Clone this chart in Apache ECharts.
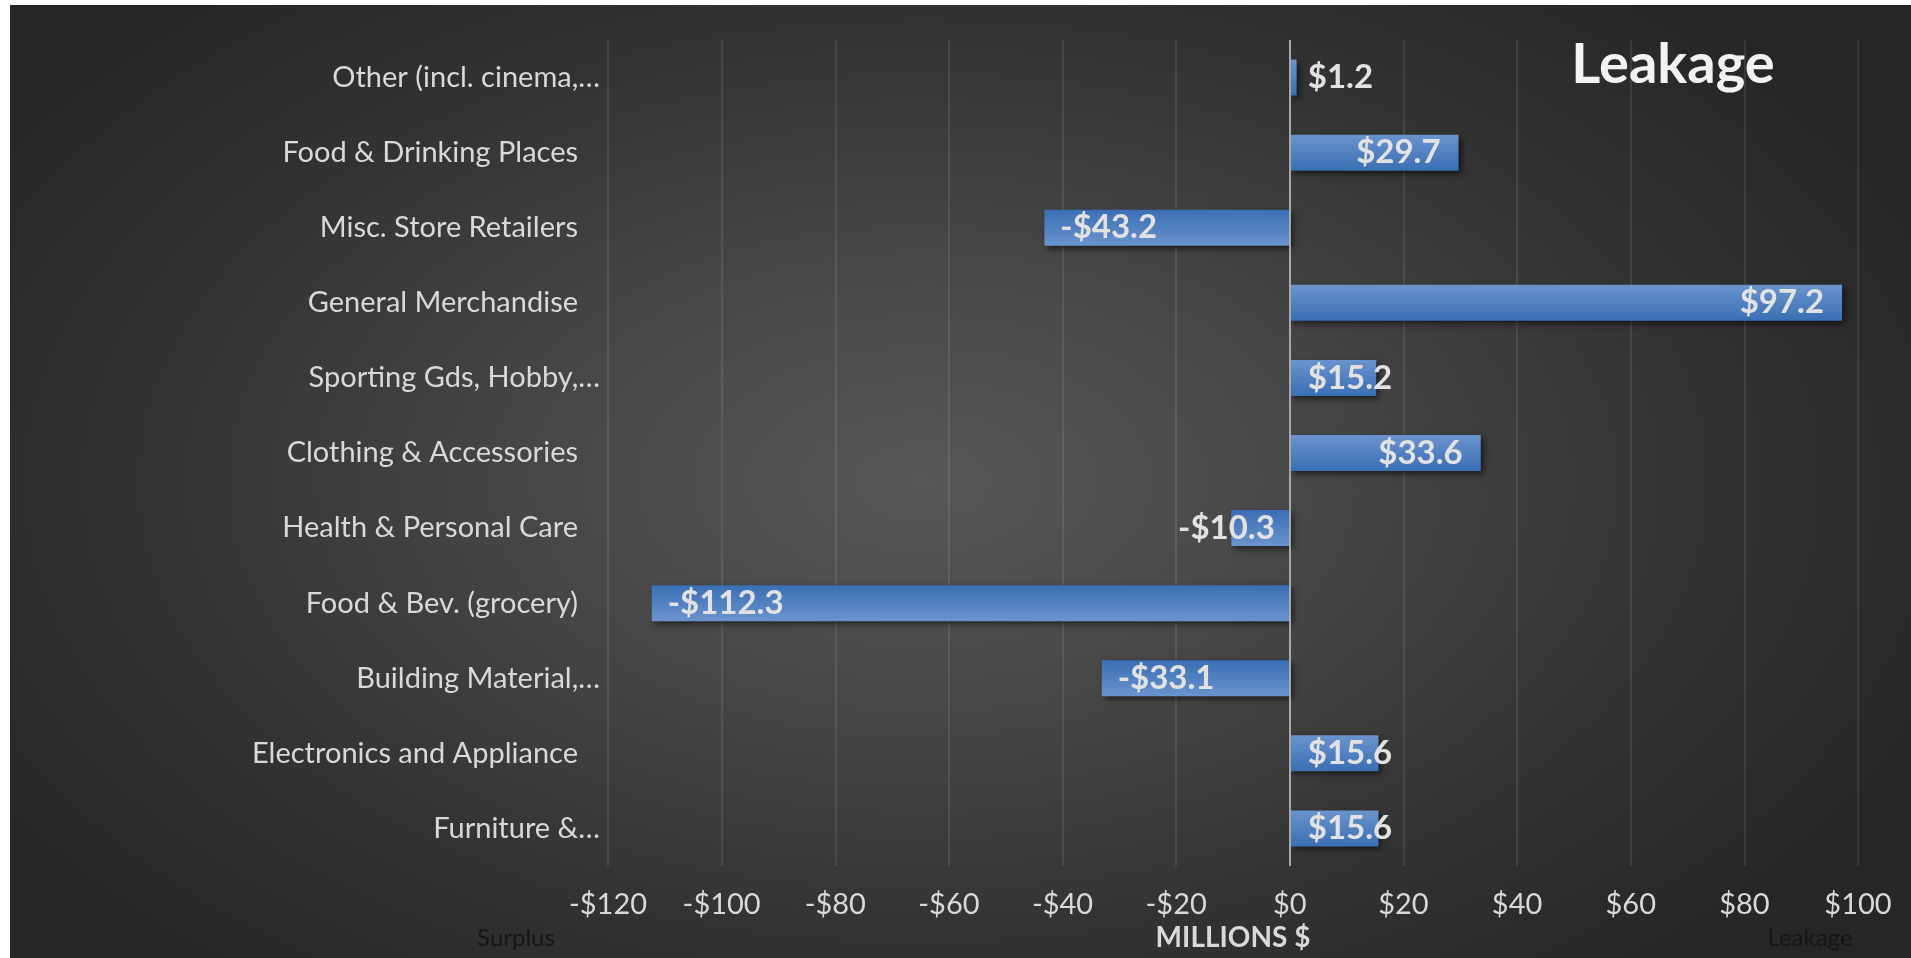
<!DOCTYPE html>
<html><head><meta charset="utf-8">
<script src="https://cdn.jsdelivr.net/npm/echarts@6/dist/echarts.min.js"></script>
<style>
html,body{margin:0;padding:0;background:#fff;width:1911px;height:958px;overflow:hidden}
#c{position:absolute;left:10px;top:5px;width:1901px;height:953px;
background: radial-gradient(ellipse 58% 68% at 48% 50%, #575757 0%, #474747 35%, #333333 70%, #262626 100%);}
</style></head><body><div id="c"></div>
<script>
const categories = ["Other (incl. cinema,\u2026","Food & Drinking Places","Misc. Store Retailers","General Merchandise","Sporting Gds, Hobby,\u2026","Clothing & Accessories","Health & Personal Care","Food & Bev. (grocery)","Building Material,\u2026","Electronics and Appliance","Furniture &\u2026"];
const values = [1.2, 29.7, -43.2, 97.2, 15.2, 33.6, -10.3, -112.3, -33.1, 15.6, 15.6];
const xMin = -120, xMax = 100, xStep = 20;
const titleText = "Leakage";
const axisTitle = "MILLIONS $";
const leftNote = "Surplus", rightNote = "Leakage";

const FONT = 'Lato';
const LABEL_SIZE = 33;
const fmtMoney = v => (v < 0 ? '-$' : '$') + Math.abs(v).toFixed(1);
const fmtTick = v => (v < 0 ? '-$' : '$') + Math.abs(v);

const chart = echarts.init(document.getElementById('c'), null, {renderer: 'canvas'});

function gradient(neg) {
  const light = '#6a94cd', dark = '#3a6eb4';
  return {type: 'linear', x: 0, y: 0, x2: 0, y2: 1,
    colorStops: neg ? [{offset: 0, color: dark}, {offset: 1, color: light}]
                    : [{offset: 0, color: light}, {offset: 1, color: dark}]};
}

function buildData(positions) {
  return values.map((v, i) => ({
    value: v,
    itemStyle: {color: gradient(v < 0)},
    label: positions ? positions[i] : {}
  }));
}

const option = {
  animation: false,
  grid: {left: 598, right: 53, top: 35, bottom: 92, containLabel: false},
  xAxis: {
    type: 'value', min: xMin, max: xMax, interval: xStep,
    axisLine: {show: false}, axisTick: {show: false},
    splitLine: {show: true, lineStyle: {color: 'rgba(255,255,255,0.12)', width: 1.5}},
    axisLabel: {formatter: fmtTick, color: '#d9d9d9', fontFamily: FONT, fontSize: 29, margin: 24},
    name: axisTitle, nameLocation: 'middle', nameGap: 58,
    nameTextStyle: {color: '#d9d9d9', fontFamily: FONT, fontWeight: 'bold', fontSize: 28}
  },
  yAxis: {
    type: 'category', data: categories, inverse: true,
    axisLine: {show: false}, axisTick: {show: false}, splitLine: {show: false},
    axisLabel: {
      color: '#d9d9d9', fontFamily: FONT, fontSize: 29, margin: 8,
      formatter: s => s.endsWith('\u2026') ? s : s + '{p|}',
      rich: {p: {width: 22}}
    }
  },
  graphic: [
    {type: 'text', x: 1663, y: 32, style: {text: titleText, fill: '#f2f2f2', font: 'bold 56px ' + FONT,
      textAlign: 'center', textVerticalAlign: 'top',
      shadowColor: 'rgba(0,0,0,0.7)', shadowBlur: 5, shadowOffsetX: 2, shadowOffsetY: 2}},
    {type: 'text', x: 506, y: 933, style: {text: leftNote, fill: '#161616', font: '24px ' + FONT, textAlign: 'center', textVerticalAlign: 'middle'}},
    {type: 'text', x: 1800, y: 933, style: {text: rightNote, fill: '#161616', font: '24px ' + FONT, textAlign: 'center', textVerticalAlign: 'middle'}}
  ],
  series: [{
    type: 'bar', barWidth: 36,
    data: buildData(null),
    itemStyle: {shadowColor: 'rgba(0,0,0,0.55)', shadowBlur: 6, shadowOffsetX: 3, shadowOffsetY: 3},
    label: {show: true, formatter: p => fmtMoney(p.value), color: '#e2e2e2',
      fontFamily: FONT, fontWeight: 'bold', fontSize: LABEL_SIZE, position: 'insideRight', distance: 18},
    markLine: {silent: true, symbol: 'none', label: {show: false},
      lineStyle: {color: '#a8a8a8', width: 2, type: 'solid'}, data: [{xAxis: 0}]}
  }]
};
chart.setOption(option);

// Excel-like "inside end" label placement, clamped next to the axis when the label does not fit
const ctx = document.createElement('canvas').getContext('2d');
ctx.font = 'bold ' + LABEL_SIZE + 'px ' + FONT;
const x0 = chart.convertToPixel({xAxisIndex: 0}, 0);
const pad = 18;
const positions = values.map(v => {
  const len = Math.abs(chart.convertToPixel({xAxisIndex: 0}, v) - x0);
  const tw = ctx.measureText(fmtMoney(v)).width;
  const fits = len >= tw + 2 * pad;
  if (v >= 0) return fits ? {position: 'insideRight', distance: pad} : {position: 'insideLeft', distance: pad};
  return fits ? {position: 'insideLeft', distance: 16} : {position: 'insideRight', distance: 15};
});
chart.setOption({series: [{data: buildData(positions)}]});
</script></body></html>
